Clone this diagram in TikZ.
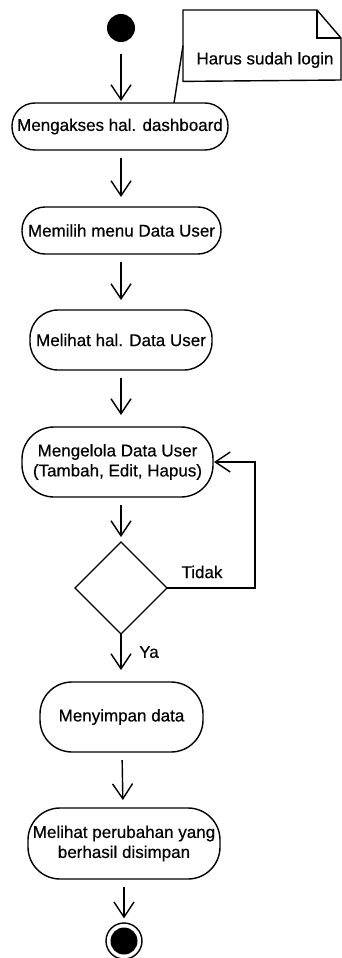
\documentclass[tikz,border=0pt]{standalone}
\usepackage{fontspec}
\setmainfont{Liberation Sans}[FakeBold=0.5]
\usetikzlibrary{arrows.meta,shapes.geometric,calc}
\begin{document}
\begin{tikzpicture}[x=1pt,y=-1pt,
  font=\fontsize{17}{20}\selectfont,
  every path/.style={line width=1.4pt},
  act/.style={draw, align=center, inner sep=0pt, outer sep=0pt},
  arr/.style={-{Straight Barb[length=15pt,width=20pt,line width=1.4pt]}, shorten <=8pt, shorten >=10pt},
  lbl/.style={inner sep=0pt}]
\useasboundingbox (0,0) rectangle (341,958);
% start
\node[circle, fill=black, minimum size=28pt, inner sep=0pt] (start) at (121,28) {};
% note
\node[lbl, minimum width=158pt, minimum height=70pt, anchor=north west] (note) at (183,10) {};
\draw (note.north west) -- (317,10) -- (341,38) -- (341,80) -- (note.south west) -- cycle;
\draw (317,10) -- (317,38) -- (341,38);
\node[lbl] (notetxt) at (265,60) {Harus sudah login};
% activities
\node[act, minimum width=216pt, minimum height=47pt, rounded corners=23pt] (n1) at (120,126.5) {Mengakses hal. dashboard};
\node[act, minimum width=199pt, minimum height=47pt, rounded corners=23pt] (n2) at (121.5,230.5) {Memilih menu Data User};
\node[act, minimum width=182pt, minimum height=60pt, rounded corners=28pt] (n3) at (121,340) {Melihat hal. Data User};
\node[act, minimum width=191pt, minimum height=70pt, rounded corners=32pt] (n4) at (117.5,462) {Mengelola Data User\\(Tambah, Edit, Hapus)};
\node[act, diamond, minimum width=92pt, minimum height=92pt, aspect=1] (dec) at (121,588) {};
\node[act, minimum width=163pt, minimum height=70pt, rounded corners=32pt] (n5) at (121.5,717) {Menyimpan data};
\node[act, minimum width=192pt, minimum height=71pt, rounded corners=32pt] (n6) at (124,843.5) {Melihat perubahan yang\\berhasil disimpan};
% end
\node[circle, draw, minimum size=36pt, inner sep=0pt] (end) at (124,941) {};
\node[circle, fill=black, minimum size=27pt, inner sep=0pt] (endin) at (end.center) {};
% connectors
\draw (n1.north -| 174,0) -- (note.west);
\draw[arr, shorten <=11pt, shorten >=2pt] (start) -- (n1.north -| start);
\draw[arr] (n1.south -| 121,0) -- (n2.north -| 121,0);
\draw[arr] (n2.south -| 121,0) -- (n3.north -| 121,0);
\draw[arr, shorten >=12pt] (n3.south -| 121,0) -- (n4.north -| 121,0);
\draw[arr, shorten >=5pt] (n4.south -| 121,0) -- (dec.north);
\draw[arr, shorten <=0pt, shorten >=12pt] (dec.south) -- (n5.north -| 121,0);
\draw[arr, shorten >=8pt] (n5.south -| 122,0) -- (n6.north -| 123,0);
\draw[arr, shorten >=4pt] (n6.south -| 124,0) -- (end.north);
\draw[arr, shorten <=0pt, shorten >=1pt] (dec.east) -- (255,588) |- (n4.east);
% labels
\node[lbl] (tidak) at (202,572) {Tidak};
\node[lbl] (ya) at (149,652) {Ya};
\end{tikzpicture}
\end{document}
